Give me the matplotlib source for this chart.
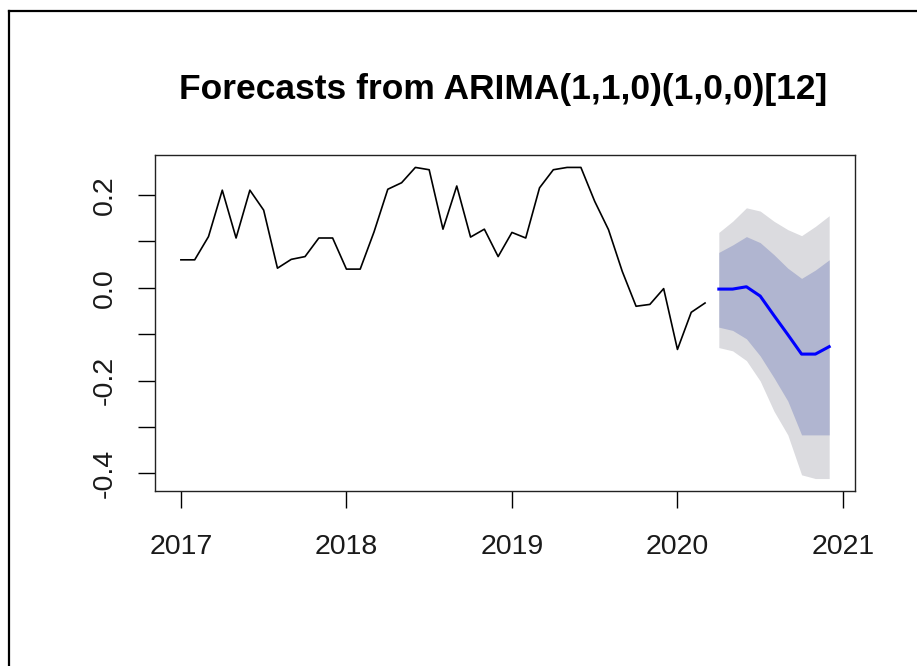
import numpy as np
import matplotlib
matplotlib.use("Agg")
import matplotlib.pyplot as plt
from matplotlib.lines import Line2D

plt.rcParams['font.family'] = ['Liberation Sans', 'DejaVu Sans']

# observed monthly series, Jan 2017 .. Mar 2020
start_year = 2017
observed = [0.060, 0.060, 0.110, 0.210, 0.107, 0.210, 0.167, 0.042,
            0.061, 0.067, 0.107, 0.107, 0.040, 0.040, 0.120, 0.212,
            0.226, 0.259, 0.254, 0.126, 0.219, 0.109, 0.126, 0.067,
            0.119, 0.107, 0.215, 0.254, 0.259, 0.259, 0.186, 0.125,
            0.035, -0.040, -0.036, -0.002, -0.133, -0.053, -0.033]

# forecast Apr 2020 .. Dec 2020
fc_mean = [-0.003, -0.003, 0.002, -0.018, -0.060, -0.101, -0.143, -0.143, -0.127]
lo80 = [-0.085, -0.092, -0.110, -0.147, -0.194, -0.244, -0.317, -0.317, -0.317]
hi80 = [0.076, 0.092, 0.110, 0.097, 0.071, 0.042, 0.020, 0.038, 0.060]
lo95 = [-0.129, -0.136, -0.157, -0.201, -0.266, -0.317, -0.403, -0.411, -0.411]
hi95 = [0.119, 0.143, 0.172, 0.165, 0.143, 0.125, 0.112, 0.132, 0.155]

year_ticks = [2017, 2018, 2019, 2020, 2021]
y_ticks = [-0.4, -0.3, -0.2, -0.1, 0.0, 0.1, 0.2]
y_labels = ['-0.4', '', '-0.2', '', '0.0', '', '0.2']

t_obs = start_year + np.arange(len(observed)) / 12
t_fc = t_obs[-1] + (np.arange(len(fc_mean)) + 1) / 12

fig = plt.figure(figsize=(9.17, 6.66), dpi=100)
ax = fig.add_axes([0.169, 0.2628, 0.7635, 0.5045])

# prediction intervals, 95% behind 80%
ax.fill_between(t_fc, lo95, hi95, color='#DBDBDF', linewidth=0)
ax.fill_between(t_fc, lo80, hi80, color='#B0B5D0', linewidth=0)
ax.plot(t_obs, observed, color='black', linewidth=1.2)
ax.plot(t_fc, fc_mean, color='#0000FF', linewidth=2.2)

# R style 4% padding around the data range
xmin, xmax = t_obs[0], t_fc[-1]
ymin, ymax = min(lo95), max(max(observed), max(hi95))
dx, dy = 0.04 * (xmax - xmin), 0.04 * (ymax - ymin)
ax.set_xlim(xmin - dx, xmax + dx)
ax.set_ylim(ymin - dy, ymax + dy)

ax.set_xticks(year_ticks)
ax.set_xticklabels([str(y) for y in year_ticks])
ax.set_yticks(y_ticks)
ax.set_yticklabels(y_labels, rotation=90, va='center')

ax.tick_params(direction='out', length=12, width=1.0, labelsize=20.5,
               color='black', labelcolor='#1a1a1a')
ax.tick_params(axis='x', pad=19)
ax.tick_params(axis='y', pad=15)
for s in ax.spines.values():
    s.set_linewidth(1.0)
    s.set_color('#222222')

fig.text(0.549, 0.866, 'Forecasts from ARIMA(1,1,0)(1,0,0)[12]',
         ha='center', va='center', fontsize=25.5, fontweight='bold')

# frame around the page
fig.add_artist(Line2D([8.5 / 917, 8.5 / 917], [0, 1 - 10.5 / 666],
                      transform=fig.transFigure, color='black', linewidth=1.6))
fig.add_artist(Line2D([8.5 / 917, 1], [1 - 10.5 / 666, 1 - 10.5 / 666],
                      transform=fig.transFigure, color='black', linewidth=1.6))

fig.savefig('out.png', dpi=100)
